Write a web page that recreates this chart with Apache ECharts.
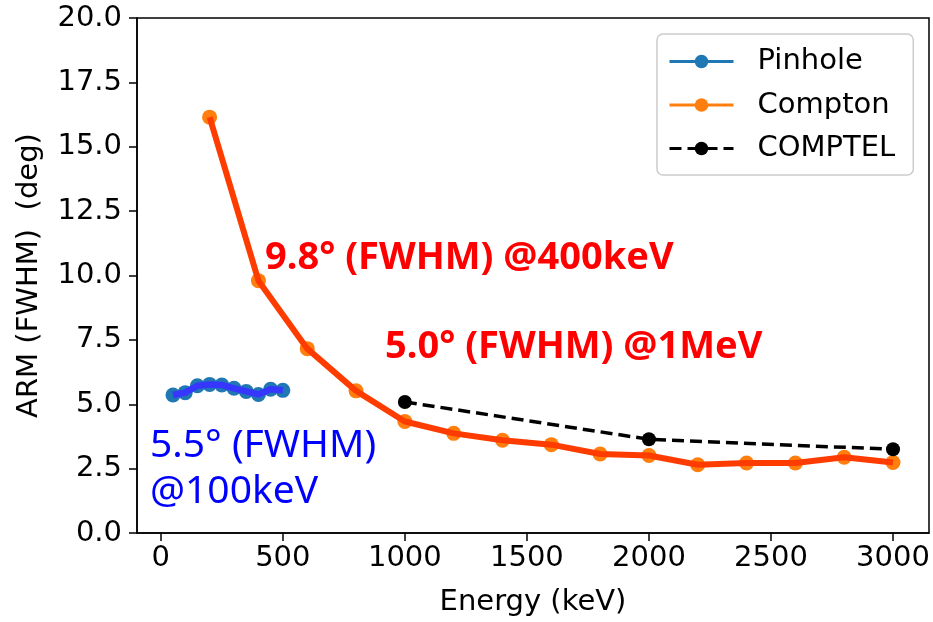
<!DOCTYPE html>
<html>
<head>
<meta charset="utf-8">
<script src="https://cdn.jsdelivr.net/npm/echarts@6/dist/echarts.min.js"></script>
<style>html,body{margin:0;padding:0;background:#fff;}#c{width:933px;height:622px;}</style>
</head>
<body>
<div id="c"></div>
<script>
// ---- data ----
const pinholeEnergy = [50, 100, 150, 200, 250, 300, 350, 400, 450, 500];
const pinholeARM = [5.36, 5.45, 5.72, 5.77, 5.75, 5.62, 5.50, 5.38, 5.58, 5.54];
const comptonEnergy = [200, 400, 600, 800, 1000, 1200, 1400, 1600, 1800, 2000, 2200, 2400, 2600, 2800, 3000];
const comptonARM = [16.15, 9.8, 7.16, 5.52, 4.33, 3.87, 3.6, 3.43, 3.07, 3.01, 2.65, 2.72, 2.72, 2.94, 2.74];
const comptelEnergy = [1000, 2000, 3000];
const comptelARM = [5.09, 3.64, 3.25];
const xTicks = [0, 500, 1000, 1500, 2000, 2500, 3000];
const seriesNames = ['Pinhole', 'Compton', 'COMPTEL'];
const annot400 = '9.8° (FWHM) @400keV';
const annot1MeV = '5.0° (FWHM) @1MeV';
const annot100a = '5.5° (FWHM)';
const annot100b = '@100keV';

const zip = (xs, ys) => xs.map((x, i) => [x, ys[i]]);
const FONT = 'DejaVu Sans';
const FS = 29;

const chart = echarts.init(document.getElementById('c'), null, {renderer: 'canvas'});
chart.setOption({
  animation: false,
  backgroundColor: '#ffffff',
  grid: {left: 137, top: 18, right: 4, bottom: 87, show: true, borderColor: '#000', borderWidth: 1.5, backgroundColor: 'transparent'},
  xAxis: {
    type: 'value', min: -97.5, max: 3147.5,
    name: 'Energy (keV)', nameLocation: 'middle', nameGap: 55,
    nameTextStyle: {fontFamily: FONT, fontSize: FS, color: '#000'},
    axisLine: {show: true, onZero: false, lineStyle: {color: '#000', width: 1.5}},
    axisTick: {show: true, length: 8, lineStyle: {color: '#000', width: 1.5}, customValues: xTicks},
    axisLabel: {fontFamily: FONT, fontSize: FS, color: '#000', margin: 11, customValues: xTicks, formatter: v => String(v)},
    splitLine: {show: false}
  },
  yAxis: {
    type: 'value', min: 0, max: 20, interval: 2.5,
    name: 'ARM (FWHM)  (deg)', nameLocation: 'middle', nameGap: 93,
    nameTextStyle: {fontFamily: FONT, fontSize: FS, color: '#000'},
    axisLine: {show: true, onZero: false, lineStyle: {color: '#000', width: 1.5}},
    axisTick: {show: true, length: 8, lineStyle: {color: '#000', width: 1.5}},
    axisLabel: {fontFamily: FONT, fontSize: FS, color: '#000', margin: 15, formatter: v => v.toFixed(1)},
    splitLine: {show: false}
  },
  legend: {
    data: seriesNames, orient: 'vertical', left: 657, top: 34,
    padding: [13, 18, 12, 11], itemWidth: 64, itemHeight: 17, itemGap: 14.5,
    backgroundColor: 'rgba(255,255,255,0.8)', borderColor: '#cccccc', borderWidth: 1.5, borderRadius: 6,
    lineStyle: {width: 3},
    textStyle: {fontFamily: FONT, fontSize: FS, color: '#000', padding: [0, 0, 0, 19]}
  },
  series: [
    {name: 'Pinhole', type: 'line', data: zip(pinholeEnergy, pinholeARM), color: '#1f77b4',
      lineStyle: {width: 3}, symbol: 'circle', symbolSize: 15, itemStyle: {color: '#1f77b4'}, z: 2},
    {name: 'Pinhole trend', type: 'line', data: zip(pinholeEnergy, pinholeARM), color: '#3636ff',
      lineStyle: {width: 6.5, color: '#3636ff'}, symbol: 'none', z: 3},
    {name: 'Compton', type: 'line', data: zip(comptonEnergy, comptonARM), color: '#ff7f0e',
      lineStyle: {width: 3}, symbol: 'circle', symbolSize: 15, itemStyle: {color: '#ff7f0e'}, z: 2},
    {name: 'Compton trend', type: 'line', data: zip(comptonEnergy, comptonARM), color: '#ff3c00',
      lineStyle: {width: 6, color: '#ff3c00'}, symbol: 'none', z: 3},
    {name: 'COMPTEL', type: 'line', data: zip(comptelEnergy, comptelARM), color: '#000',
      lineStyle: {width: 3.5, type: [12, 6], color: '#000'}, symbol: 'circle', symbolSize: 14, itemStyle: {color: '#000'}, z: 4}
  ],
  graphic: [
    {type: 'text', left: 265, top: 239, z: 10, style: {text: annot400, fontFamily: 'Noto Sans', fontWeight: 'bold', fontSize: 38, fill: '#ff0000'}},
    {type: 'text', left: 385, top: 328, z: 10, style: {text: annot1MeV, fontFamily: 'Noto Sans', fontWeight: 'bold', fontSize: 38, fill: '#ff0000'}},
    {type: 'text', left: 150, top: 426, z: 10, style: {text: annot100a, fontFamily: 'Noto Sans', fontSize: 39, fill: '#0000ff'}},
    {type: 'text', left: 150, top: 472, z: 10, style: {text: annot100b, fontFamily: 'Noto Sans', fontSize: 39, fill: '#0000ff'}}
  ]
});
</script>
</body>
</html>
